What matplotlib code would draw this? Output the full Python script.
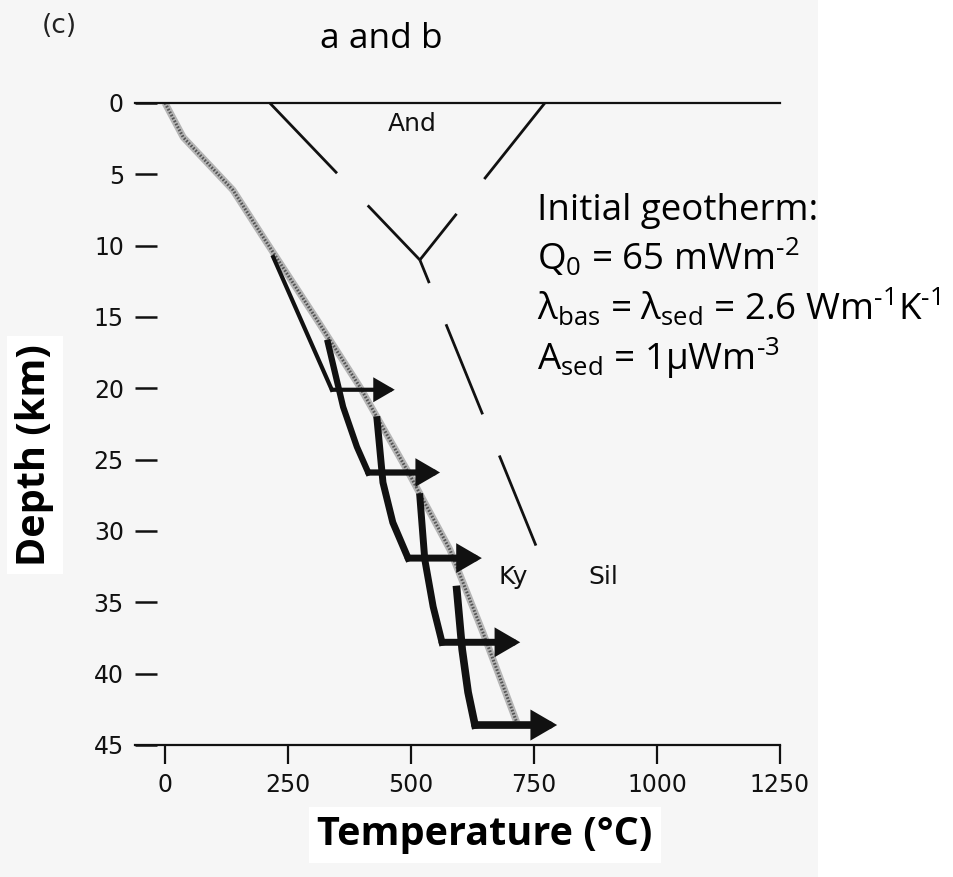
import matplotlib

matplotlib.use("Agg")
import matplotlib.pyplot as plt
from matplotlib.patches import Rectangle

# initial geotherm (temperature in °C, depth in km)
geo_T = [0, 37, 138, 207, 309, 396, 498, 579, 646, 717]
geo_z = [0, 2.4, 6.1, 9.8, 15.2, 19.9, 26.1, 31.3, 37.1, 43.6]

# Al2SiO5 phase boundaries (triple point at ~518 °C, 11 km)
and_ky_T = [213, 518]
and_ky_z = [0, 11.0]
and_sil_T = [772, 518]
and_sil_z = [0, 11.0]
ky_sil_T = [518, 756]
ky_sil_z = [11.0, 31.2]

# burial paths (start on geotherm, end at corner) and heating arrows
burial_paths = [
    ([220, 339], [10.8, 20.1]),
    ([331, 362, 390, 413], [16.8, 21.3, 24.1, 25.9]),
    ([431, 443, 463, 494], [22.2, 26.6, 29.4, 31.9]),
    ([518, 528, 545, 563], [27.6, 32.0, 35.3, 37.8]),
    ([593, 604, 616, 630], [34.1, 38.3, 41.3, 43.6]),
]
arrow_tips = [467, 559, 644, 722, 797]
path_widths = [3.0, 4.5, 5.0, 5.0, 5.5]

phase_labels = [("And", 502, 1.5), ("Ky", 707, 33.2), ("Sil", 890, 33.2)]

depth_ticks = list(range(0, 50, 5))
temp_ticks = [0, 250, 500, 750, 1000, 1250]

plt.rcParams["lines.scale_dashes"] = False
plt.rcParams["mathtext.fontset"] = "custom"
plt.rcParams["mathtext.rm"] = "Open Sans"
plt.rcParams["mathtext.default"] = "regular"

W, H = 954, 877
fig = plt.figure(figsize=(W / 100, H / 100), dpi=100)
fig.patch.set_facecolor("white")
# slightly grey scanned page
fig.patches.append(Rectangle((0, 0), 818 / W, 1, transform=fig.transFigure,
                             facecolor="#f6f6f6", edgecolor="none", zorder=-10))

ax = fig.add_axes([135 / W, 1 - 745 / H, (780 - 135) / W, (745 - 103) / H])
ax.set_facecolor("none")
ax.set_xlim(-61, 1250)
ax.set_ylim(45, 0)
for side in ("left", "right"):
    ax.spines[side].set_visible(False)
for side in ("top", "bottom"):
    ax.spines[side].set_linewidth(1.6)
    ax.spines[side].set_color("#111111")

ax.set_yticks(depth_ticks)
ax.set_xticks(temp_ticks)
ax.tick_params(axis="y", direction="in", length=16, width=1.8, pad=8,
               labelsize=17, color="#111111", labelcolor="#111111")
ax.tick_params(axis="x", direction="out", length=14, width=1.6, pad=6,
               labelsize=17, color="#111111", labelcolor="#111111")

# geotherm: grey band with dark stipple
ax.plot(geo_T, geo_z, color="#b5b5b5", lw=5, solid_capstyle="butt", zorder=2)
ax.plot(geo_T, geo_z, color="#555555", lw=2.2, ls=(0, (1.2, 1.2)), zorder=2)

# phase boundaries, long dashes
dash = (70, 32)
ax.plot(and_ky_T, and_ky_z, color="#111111", lw=2, ls=(0, dash))
ax.plot(and_sil_T, and_sil_z, color="#111111", lw=2, ls=(0, dash))
ax.plot(ky_sil_T, ky_sil_z, color="#111111", lw=2, ls=(52, dash))

for (pT, pz), tip, w in zip(burial_paths, arrow_tips, path_widths):
    ax.plot(pT, pz, color="#111111", lw=w, solid_joinstyle="miter",
            solid_capstyle="projecting", zorder=4)
    ax.annotate("", xy=(tip, pz[-1]), xytext=(pT[-1], pz[-1]),
                arrowprops=dict(arrowstyle="-|>,head_length=0.55,head_width=0.32",
                                mutation_scale=20, lw=w, color="#111111",
                                shrinkA=0, shrinkB=0, joinstyle="miter"),
                zorder=4)

for name, t, z in phase_labels:
    ax.text(t, z, name, ha="center", va="center", fontsize=18, color="#111111")

fig.text(59 / W, 1 - 26 / H, "(c)", ha="center", va="center", fontsize=19, color="#222222")
fig.text(381 / W, 1 - 48 / H, "a and b", ha="center", va="baseline",
         fontsize=25.5, family="Open Sans")

hy = "\u2010"  # plain hyphen in superscripts, as on the slide
lines = [
    "Initial geotherm:",
    r"Q$_0$ = 65 mWm$^{%s2}$" % hy,
    r"λ$_{bas}$ = λ$_{sed}$ = 2.6 Wm$^{%s1}$K$^{%s1}$" % (hy, hy),
    r"A$_{sed}$ = 1μWm$^{%s3}$" % hy,
]
for i, s in enumerate(lines):
    fig.text(537 / W, 1 - (220 + 50 * i) / H, s, ha="left", va="baseline",
             fontsize=26.5, family=["Open Sans", "DejaVu Sans"])

fig.text(35 / W, 1 - 455 / H, "Depth (km)", rotation=90, ha="center", va="center",
         fontsize=28.5, fontweight="bold", family="Open Sans",
         bbox=dict(facecolor="white", edgecolor="none", pad=6))
fig.text(485 / W, 1 - 835 / H, "Temperature (°C)", ha="center", va="center",
         fontsize=28.5, fontweight="bold", family="Open Sans",
         bbox=dict(facecolor="white", edgecolor="none", pad=6))

fig.savefig("out.png", dpi=100)
